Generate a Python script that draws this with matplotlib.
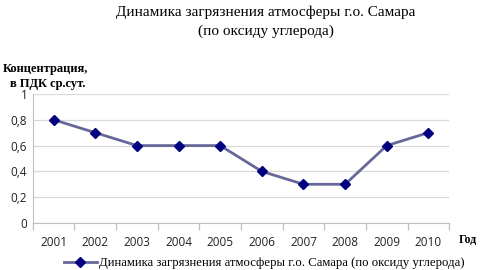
import matplotlib.pyplot as plt
from matplotlib.ticker import FixedLocator

years = ["2001", "2002", "2003", "2004", "2005", "2006", "2007", "2008", "2009", "2010"]
values = [0.8, 0.7, 0.6, 0.6, 0.6, 0.4, 0.3, 0.3, 0.6, 0.7]
y_ticks = [0, 0.2, 0.4, 0.6, 0.8, 1]
y_tick_labels = ["0", "0,2", "0,4", "0,6", "0,8", "1"]

series_name = "Динамика загрязнения атмосферы г.о. Самара (по оксиду углерода)"


def main():
	fig = plt.figure(figsize=(4.83, 2.70), dpi=100)
	ax = fig.add_axes([0.068, 0.174, 0.862, 0.478])

	x = list(range(len(years)))
	line, = ax.plot(x, values, color="#67679a", linewidth=2.0, marker="D",
			markersize=5.5, markerfacecolor="#000080", markeredgecolor="#000080",
			label=series_name, zorder=3)

	ax.set_xlim(-0.5, len(years) - 0.5)
	ax.set_ylim(0, 1)

	# gridlines and axes look like an Excel chart
	ax.set_yticks(y_ticks)
	ax.set_yticklabels(y_tick_labels, fontsize=8.5, family="Open Sans")
	ax.yaxis.grid(True, color="#d9d9d9", linewidth=0.9)
	ax.set_axisbelow(True)
	ax.tick_params(axis="y", length=0, pad=4, colors="#222222")

	ax.set_xticks(x)
	ax.set_xticklabels(years, fontsize=8.5, family="Open Sans")
	ax.tick_params(axis="x", length=0, pad=9, colors="#222222")
	ax.xaxis.set_minor_locator(FixedLocator([i - 0.5 for i in range(len(years) + 1)]))
	ax.tick_params(axis="x", which="minor", length=5, color="#bfbfbf", width=0.9)

	for side in ["top", "right"]:
		ax.spines[side].set_visible(False)
	ax.spines["left"].set_color("#bfbfbf")
	ax.spines["bottom"].set_color("#bfbfbf")

	fig.text(0.55, 0.955, "Динамика загрязнения атмосферы г.о. Самара", ha="center", va="center",
		fontsize=11, family="Liberation Serif")
	fig.text(0.55, 0.885, "(по оксиду углерода)", ha="center", va="center",
		fontsize=11, family="Liberation Serif")

	fig.text(0.095, 0.745, "Концентрация,", ha="center", va="center",
		fontsize=9, fontweight="bold", family="Liberation Serif")
	fig.text(0.098, 0.69, "в ПДК ср.сут.", ha="center", va="center",
		fontsize=9, fontweight="bold", family="Liberation Serif")
	fig.text(0.968, 0.11, "Год", ha="center", va="center",
		fontsize=8.5, fontweight="bold", family="Liberation Serif")

	fig.legend(handles=[line], loc="center", bbox_to_anchor=(0.547, 0.025), frameon=False,
		prop={"family": "Liberation Serif", "size": 9.2}, handlelength=2.6,
		handletextpad=0.2, borderaxespad=0)

	fig.savefig("out.png", dpi=100)


if __name__ == "__main__":
	main()
